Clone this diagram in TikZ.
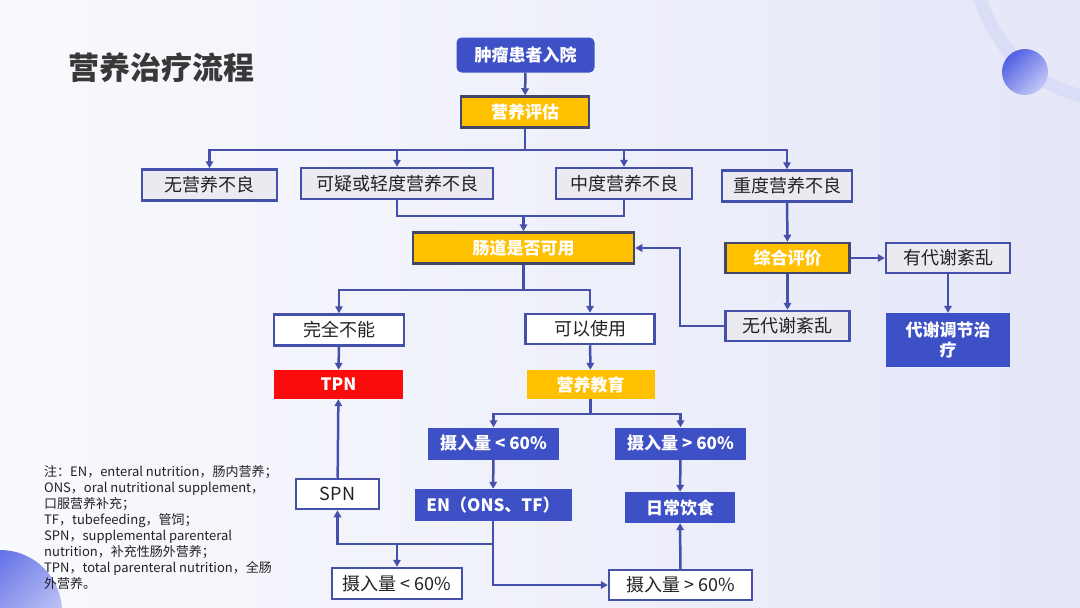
\documentclass[tikz,border=0pt]{standalone}
\usepackage{fontspec}
\setmainfont{Noto Sans CJK SC}
\usepackage{tikz}
\usetikzlibrary{arrows.meta,positioning,calc}
\definecolor{bgL}{RGB}{249,250,253}
\definecolor{bgR}{RGB}{229,231,248}
\definecolor{boxblue}{RGB}{62,80,198}
\definecolor{linkblue}{RGB}{68,80,170}
\definecolor{boxgold}{RGB}{255,192,0}
\definecolor{goldedge}{RGB}{66,72,108}
\definecolor{boxgray}{RGB}{234,234,240}
\definecolor{boxred}{RGB}{250,12,12}
\definecolor{txt}{RGB}{34,34,34}
\definecolor{ringc}{RGB}{218,221,246}
\definecolor{ballA}{RGB}{80,96,228}
\definecolor{ballB}{RGB}{196,200,246}

\begin{document}
\begin{tikzpicture}[x=1pt, y=-1pt,
    base/.style={minimum height=31pt, inner sep=0pt, align=center, font=\fontsize{18}{21}\selectfont},
    graybox/.style={base, fill=boxgray, draw=linkblue, line width=2.5pt, text=txt},
    whitebox/.style={base, fill=white, draw=linkblue, line width=2.5pt, text=txt},
    goldbox/.style={base, fill=boxgold, draw=goldedge, line width=2.5pt, text=white, font=\fontsize{17}{20}\selectfont\bfseries},
    flatbox/.style={base, text=white, font=\fontsize{17}{20}\selectfont\bfseries},
    bluebox/.style={flatbox, fill=boxblue},
    arr/.style={-{Triangle[length=7pt, width=7.5pt]}, draw=linkblue, line width=2.5pt},
    ln/.style={draw=linkblue, line width=2.5pt}
]
\useasboundingbox (0,0) rectangle (1080,608);
\shade[left color=bgL, right color=bgR] (0,0) rectangle (1080,608);
\begin{scope}
\clip (0,0) rectangle (1080,608);
\draw[ringc, line width=13pt] (1115,-40) circle [radius=140];
\shade[left color=ballA, right color=ballB, shading angle=45] (1025,72) circle [radius=23];
\shade[left color=ballA, right color=ballB!70!bgL, shading angle=45] (0,612) circle [radius=62];
\end{scope}

\node[anchor=west, text=txt!90!white, font=\fontsize{31}{34}\selectfont\bfseries] (title) at (65,68) {营养治疗流程};

\node[bluebox, rounded corners=5pt, minimum width=138pt, minimum height=35pt] (adm) at (525.5,55) {肿瘤患者入院};
\node[goldbox, minimum width=128pt] (eval) at (525,112) {营养评估};
\node[graybox, minimum width=135pt] (nomal) at (209.5,185) {无营养不良};
\node[graybox, minimum width=192pt] (mild) at (397,183.5) {可疑或轻度营养不良};
\node[graybox, minimum width=136pt] (mod) at (624,183.5) {中度营养不良};
\node[graybox, minimum width=130pt] (sev) at (787,186) {重度营养不良};
\node[goldbox, minimum width=221pt] (gut) at (523.5,248) {肠道是否可用};
\node[goldbox, minimum width=124pt, minimum height=30pt] (comp) at (787.5,258) {综合评价};
\node[graybox, minimum width=124pt, minimum height=30pt] (dis) at (948,258) {有代谢紊乱};
\node[bluebox, minimum width=124pt, minimum height=54pt] (meta) at (948,340) {代谢调节治\\疗};
\node[graybox, minimum width=124pt, minimum height=30pt] (nodis) at (787.5,326) {无代谢紊乱};
\node[whitebox, minimum width=130pt] (unable) at (339,330) {完全不能};
\node[whitebox, minimum width=129pt, minimum height=30pt] (usable) at (590,329) {可以使用};
\node[flatbox, fill=boxred, minimum width=129pt, minimum height=29pt] (tpn) at (338.5,384.5) {TPN};
\node[flatbox, fill=boxgold, minimum width=128pt, minimum height=29pt] (edu) at (590.5,384.5) {营养教育};
\node[bluebox, minimum width=131pt, minimum height=32pt] (lowA) at (493.5,443.5) {摄入量 < 60\%};
\node[bluebox, minimum width=131pt, minimum height=32pt] (highA) at (680.5,443.5) {摄入量 > 60\%};
\node[bluebox, minimum width=157pt, minimum height=32pt] (en) at (493,505) {EN（ONS、TF）};
\node[bluebox, minimum width=110pt] (diet) at (680,507.5) {日常饮食};
\node[whitebox, minimum width=83pt, minimum height=30pt] (spn) at (337.5,494) {SPN};
\node[whitebox, minimum width=130pt] (lowB) at (397,583.5) {摄入量 < 60\%};
\node[whitebox, minimum width=143pt, minimum height=30pt] (highB) at (680.5,585) {摄入量 > 60\%};

\node[anchor=north west, inner sep=0pt, align=left, text=txt, font=\fontsize{13}{16}\selectfont] (note) at (44,465)
  {注：EN，enteral nutrition，肠内营养；\\ONS，oral nutritional supplement，\\口服营养补充；\\TF，tubefeeding，管饲；\\SPN，supplemental parenteral\\nutrition，补充性肠外营养；\\TPN，total parenteral nutrition，全肠\\外营养。};

\coordinate (split1) at (525,150);
\coordinate (merge) at (523.5,216);
\coordinate (back) at (680,248);
\coordinate (split2) at (523.5,290);
\coordinate (split3) at (590.5,414);
\coordinate (split4) at (493,544);
\coordinate (split5) at (397,544);

\draw[arr] (adm) -- (eval);
\draw[ln] (eval) -- (split1);
\draw[arr] (split1) -| (nomal);
\draw[arr] (split1) -| (mild);
\draw[arr] (split1) -| (mod);
\draw[arr] (split1) -| (sev);
\draw[ln] (mild) |- (merge) -| (mod);
\draw[arr] (merge) -- (gut);
\draw[arr] (sev) -- (comp);
\draw[arr] (comp) -- (dis);
\draw[arr] (dis) -- (meta);
\draw[arr] (comp) -- (nodis);
\draw[arr] (nodis) -| (back) -- (gut);
\draw[ln] (gut) -- (split2);
\draw[arr] (split2) -| (unable);
\draw[arr] (split2) -| (usable);
\draw[arr] (unable) -- (tpn);
\draw[arr] (usable) -- (edu);
\draw[ln] (edu) -- (split3);
\draw[arr] (split3) -| (lowA);
\draw[arr] (split3) -| (highA);
\draw[arr] (lowA) -- (en);
\draw[arr] (highA) -- (diet);
\draw[ln] (en) -- (split4);
\draw[arr] (split4) -| (spn);
\draw[arr] (split5) -- (lowB);
\draw[arr] (split4) |- (highB);
\draw[arr] (spn) -- (tpn);
\draw[arr] (highB) -- (diet);
\end{tikzpicture}
\end{document}
